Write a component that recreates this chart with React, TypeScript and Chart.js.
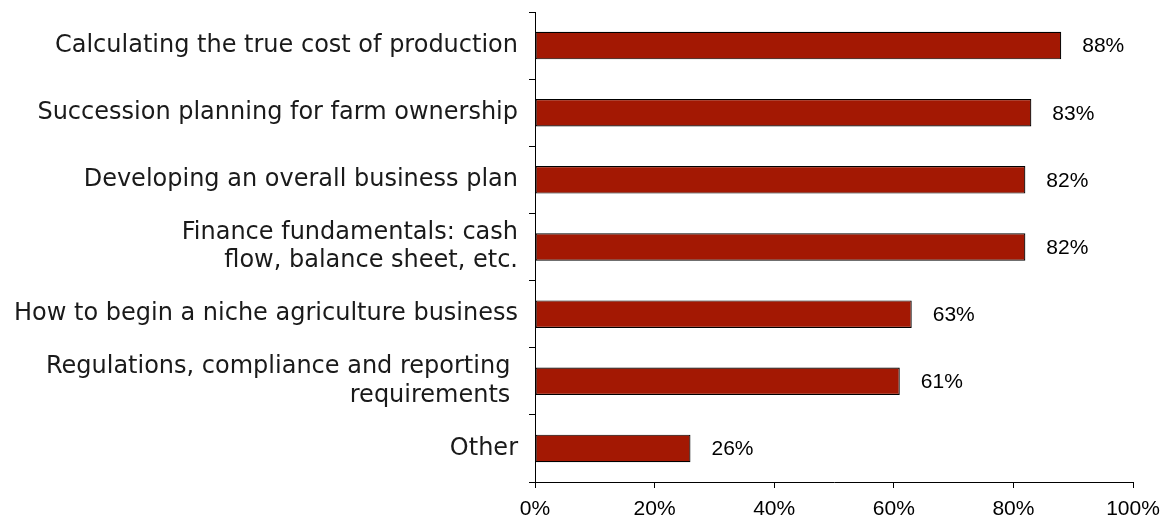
import React, { useEffect, useRef } from "react";
import { Chart, registerables } from "chart.js";

Chart.register(...registerables);

const categories: (string | string[])[] = [
  "Calculating the true cost of production",
  "Succession planning for farm ownership",
  "Developing an overall business plan",
  ["Finance fundamentals: cash", "flow, balance sheet, etc."],
  "How to begin a niche agriculture business",
  ["Regulations, compliance and reporting ", "requirements "],
  "Other",
];
const values: number[] = [88, 83, 82, 82, 63, 61, 26];
const xTicks: number[] = [0, 20, 40, 60, 80, 100];

const labelPlugin = {
  id: "barLabels",
  afterDatasetsDraw(chart: any) {
    const ctx = chart.ctx;
    const meta = chart.getDatasetMeta(0);
    ctx.save();
    ctx.font = '21px "Liberation Sans", Arial, sans-serif';
    ctx.fillStyle = "#000";
    ctx.textBaseline = "middle";
    ctx.textAlign = "left";
    meta.data.forEach((bar: any, i: number) => {
      ctx.fillText(values[i] + "%", bar.x + 21, bar.y + 1);
    });
    ctx.restore();
  },
};

export default function App() {
  const ref = useRef<HTMLCanvasElement>(null);
  useEffect(() => {
    if (!ref.current) return;
    const chart = new Chart(ref.current, {
      type: "bar",
      data: {
        labels: categories as any,
        datasets: [
          {
            data: values,
            backgroundColor: "#A31803",
            borderColor: "#000",
            borderWidth: 1.2,
            borderSkipped: false,
            barPercentage: 0.82,
            categoryPercentage: 0.5,
          },
        ],
      },
      options: {
        indexAxis: "y",
        animation: false,
        responsive: false,
        maintainAspectRatio: false,
        layout: { padding: { top: 12, right: 36, bottom: 0, left: 0 } },
        plugins: { legend: { display: false }, tooltip: { enabled: false } },
        scales: {
          x: {
            min: 0,
            max: 100,
            afterBuildTicks: (axis: any) => {
              axis.ticks = xTicks.map((v) => ({ value: v }));
            },
            afterFit: (axis: any) => {
              axis.height = 45;
              axis.paddingLeft = 0;
              axis.paddingRight = 0;
            },
            border: { display: true, color: "#000", width: 1 },
            grid: {
              drawOnChartArea: false,
              drawTicks: true,
              tickLength: 6,
              color: "#000",
            },
            ticks: {
              color: "#000",
              padding: 9,
              font: { family: '"Liberation Sans", Arial, sans-serif', size: 21 },
              callback: (v: any) => v + "%",
              maxRotation: 0,
            },
          },
          y: {
            afterFit: (axis: any) => {
              axis.width = 535;
              axis.paddingTop = 0;
              axis.paddingBottom = 0;
            },
            border: { display: true, color: "#000", width: 1 },
            grid: {
              drawOnChartArea: false,
              drawTicks: true,
              tickLength: 6,
              color: "#000",
              offset: true,
            },
            ticks: {
              color: "#1a1a1a",
              padding: 11,
              font: { family: '"DejaVu Sans", sans-serif', size: 24, lineHeight: 1.17 },
            },
          },
        },
      },
      plugins: [labelPlugin],
    });
    return () => chart.destroy();
  }, []);
  return (
    <div style={{ position: "fixed", left: 0, top: 0, width: 1169, height: 527, background: "#fff" }}>
      <canvas ref={ref} width={1169} height={527} />
    </div>
  );
}
